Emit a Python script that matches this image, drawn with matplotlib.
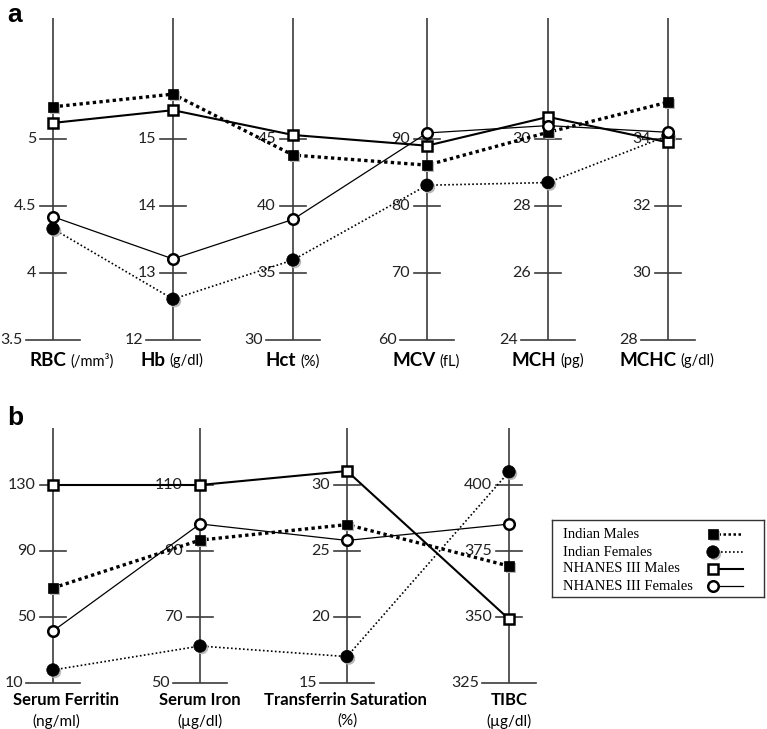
import matplotlib
matplotlib.use("Agg")
import matplotlib.pyplot as plt
import matplotlib.patheffects as pe
from matplotlib.offsetbox import TextArea, HPacker, AnnotationBbox

# ---------------- data: panel a (red cell indices) ----------------
a_names = ["RBC", "Hb", "Hct", "MCV", "MCH", "MCHC"]
a_units = ["(/mm³)", "(g/dl)", "(%)", "(fL)", "(pg)", "(g/dl)"]
a_ticks = [[3.5, 4, 4.5, 5], [12, 13, 14, 15], [30, 35, 40, 45],
           [60, 70, 80, 90], [24, 26, 28, 30], [28, 30, 32, 34]]
a_indian_males = [5.24, 15.67, 43.8, 86.1, 30.2, 35.1]
a_indian_females = [4.33, 12.61, 35.97, 83.1, 28.7, 34.1]
a_nhanes_males = [5.12, 15.43, 45.3, 89.0, 30.66, 33.9]
a_nhanes_females = [4.42, 13.21, 39.0, 90.9, 30.4, 34.2]

# ---------------- data: panel b (iron status) ----------------
b_names = ["Serum Ferritin", "Serum Iron", "Transferrin Saturation", "TIBC"]
b_units = ["(ng/ml)", "(µg/dl)", "(%)", "(µg/dl)"]
b_ticks = [[10, 50, 90, 130], [50, 70, 90, 110], [15, 20, 25, 30], [325, 350, 375, 400]]
b_indian_males = [67.6, 93.3, 27.0, 369.3]
b_indian_females = [17.9, 61.2, 17.0, 405]
b_nhanes_males = [130, 110, 31.06, 349.2]
b_nhanes_females = [41.5, 98.2, 25.8, 385.2]

series_names = ["Indian Males", "Indian Females", "NHANES III Males", "NHANES III Females"]

# ---------------- layout (pixels) ----------------
W, H = 767, 729
a_x = [53, 173, 293, 427, 548, 668]
a_label_x = [72, 172, 293, 426, 548, 667]
b_x = [53, 200, 347, 509]
b_label_x = [66, 200, 345, 509]
b_unit_x = [56, 200, 347, 509]

AXCOL = "#3c3c3c"
TICKFONT = "Lato"

styles = [
    dict(ls=(0, (1, 1)), lw=2.4, marker="s", ms=6.8, mfc="black", mec="black", mew=0.5, shadow=True),
    dict(ls=(0, (1, 1.4)), lw=1.2, marker="o", ms=9.0, mfc="black", mec="black", mew=0.5, shadow=True),
    dict(ls="-", lw=1.5, marker="s", ms=7.4, mfc="white", mec="black", mew=1.8, shadow=False),
    dict(ls="-", lw=0.9, marker="o", ms=7.6, mfc="white", mec="black", mew=1.8, shadow=False),
]

shadow = [pe.SimplePatchShadow(offset=(1.4, -1.4), shadow_rgbFace="0.72", alpha=1.0), pe.Normal()]


def to_u(vals, ticks):
    out = []
    for v, t in zip(vals, ticks):
        step = t[1] - t[0]
        out.append((v - t[0]) / step)
    return out


def draw_panel(ax, xs, ticks, top_u, series):
    for x, t in zip(xs, ticks):
        ax.plot([x, x], [0, top_u], color=AXCOL, lw=1.2, zorder=1, solid_capstyle="butt")
        ax.plot([x - 27, x + 27], [0, 0], color=AXCOL, lw=1.2, zorder=1)
        for k in range(1, 4):
            ax.plot([x - 13, x + 13], [k, k], color=AXCOL, lw=1.2, zorder=1)
        for k, tv in enumerate(t):
            off = 30 if k == 0 else 17
            ax.text(x - off, k, "{:g}".format(tv), ha="right", va="center",
                    fontsize=11.5, family=TICKFONT, color="#222222", zorder=2)
    for vals, st in zip(series, styles):
        u = to_u(vals, ticks)
        ax.plot(xs, u, color="black", ls=st["ls"], lw=st["lw"], zorder=3,
                dash_capstyle="butt")
        m, = ax.plot(xs, u, ls="none", marker=st["marker"], ms=st["ms"], mfc=st["mfc"],
                     mec=st["mec"], mew=st["mew"], zorder=4)
        if st["shadow"]:
            m.set_path_effects(shadow)


fig = plt.figure(figsize=(W / 100, H / 100), dpi=100)

# ---------------- panel a ----------------
ax_a = fig.add_axes([0, (H - 380) / H, 1, 380 / H])
ax_a.set_xlim(0, W)
ax_a.set_ylim((340 - 380) / 67, 340 / 67)
ax_a.axis("off")
draw_panel(ax_a, a_x, a_ticks, (340 - 18) / 67,
           [a_indian_males, a_indian_females, a_nhanes_males, a_nhanes_females])
for x, name, unit in zip(a_label_x, a_names, a_units):
    box = HPacker(children=[
        TextArea(name, textprops=dict(fontsize=13.5, fontweight="bold", family=TICKFONT)),
        TextArea(unit, textprops=dict(fontsize=10.5, family=TICKFONT))],
        align="baseline", pad=0, sep=3)
    ab = AnnotationBbox(box, (x, (340 - 360) / 67), frameon=False, box_alignment=(0.5, 0.5))
    ax_a.add_artist(ab)
ax_a.text(7, (340 - 15) / 67, "a", fontsize=19, fontweight="bold", family="Liberation Sans",
          ha="left", va="center")

# ---------------- panel b ----------------
ax_b = fig.add_axes([0, 0, 1, 349 / H])
ax_b.set_xlim(0, W)
ax_b.set_ylim((683 - 729) / 66, (683 - 380) / 66)
ax_b.axis("off")
draw_panel(ax_b, b_x, b_ticks, (683 - 428) / 66,
           [b_indian_males, b_indian_females, b_nhanes_males, b_nhanes_females])
for x, xu, name, unit in zip(b_label_x, b_unit_x, b_names, b_units):
    ax_b.text(x, (683 - 700) / 66, name, ha="center", va="center", fontsize=12,
              fontweight="bold", family=TICKFONT)
    ax_b.text(xu, (683 - 721) / 66, unit, ha="center", va="center", fontsize=11,
              family=TICKFONT)
ax_b.text(7, (683 - 418) / 66, "b", fontsize=19, fontweight="bold", family="Liberation Sans",
          ha="left", va="center")

# ---------------- legend (drawn in its own box) ----------------
lg = fig.add_axes([552 / W, (H - 597) / H, 212 / W, 77 / H])
lg.set_xlim(0, 212)
lg.set_ylim(77, 0)
lg.set_xticks([])
lg.set_yticks([])
for s in lg.spines.values():
    s.set_linewidth(1.0)
    s.set_color("#333333")
rows = [14, 32, 49, 66]
for y, name, st in zip(rows, series_names, styles):
    lg.text(11, y, name, ha="left", va="center", fontsize=10.5, family="Liberation Serif")
    lg.plot([161, 191], [y, y], color="black", ls=st["ls"], lw=min(st["lw"], 1.8), zorder=2,
            dash_capstyle="butt")
    m, = lg.plot([161], [y], ls="none", marker=st["marker"], ms=st["ms"], mfc=st["mfc"],
                 mec=st["mec"], mew=st["mew"], zorder=3)
    if st["shadow"]:
        m.set_path_effects(shadow)

fig.savefig("out.png", dpi=100)
